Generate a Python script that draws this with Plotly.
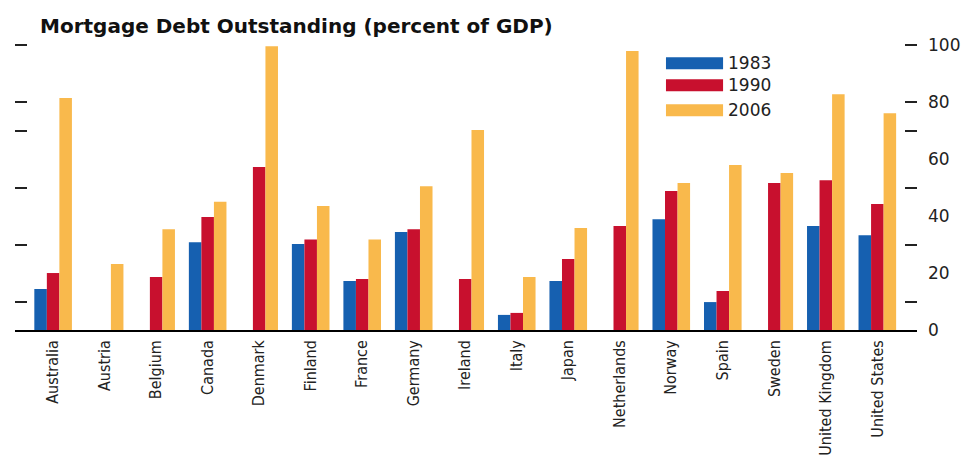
import plotly.graph_objects as go

# Mortgage debt outstanding, percent of GDP
countries = ["Australia", "Austria", "Belgium", "Canada", "Denmark", "Finland",
             "France", "Germany", "Ireland", "Italy", "Japan", "Netherlands",
             "Norway", "Spain", "Sweden", "United Kingdom", "United States"]
y1983 = [14.4, None, None, 30.8, None, 30.2, 17.2, 34.4, None, 5.3, 17.2, None,
         38.9, 9.8, None, 36.5, 33.3]
y1990 = [20.0, None, 18.6, 39.7, 57.2, 31.8, 17.9, 35.4, 17.9, 6.0, 24.9, 36.5,
         48.8, 13.7, 51.6, 52.6, 44.2]
y2006 = [81.4, 23.2, 35.4, 45.0, 99.6, 43.5, 31.8, 50.5, 70.2, 18.6, 35.8, 97.9,
         51.6, 57.9, 55.1, 82.8, 76.1]

series_names = ["1983", "1990", "2006"]
series_values = [y1983, y1990, y2006]
series_colors = ["#1660b0", "#c8102e", "#f9b94c"]

label_ticks = [0, 20, 40, 60, 80, 100]
mark_ticks = [10, 30, 50, 70, 80, 100]

fig = go.Figure()
for name, vals, col in zip(series_names, series_values, series_colors):
    fig.add_trace(go.Bar(x=countries, y=vals, name=name, marker_color=col,
                         marker_line_width=0, showlegend=False))

# invisible trace to activate the right-hand label axis
fig.add_trace(go.Scatter(x=[countries[0]], y=[0], yaxis="y2", mode="markers",
                         marker=dict(opacity=0), showlegend=False, hoverinfo="skip"))

fig.update_layout(
    width=970, height=464,
    margin=dict(l=15, r=53, t=44, b=134),
    paper_bgcolor="white", plot_bgcolor="white",
    barmode="group", bargap=0.27, bargroupgap=0,
    showlegend=False,
    xaxis=dict(
        range=[-0.74, 16.77], showgrid=False, zeroline=False, automargin=False,
        showline=True, linecolor="black", linewidth=1.5,
        ticks="", tickangle=-90, ticklabelstandoff=2,
        tickfont=dict(family="Liberation Sans Narrow, Arial Narrow, DejaVu Sans Condensed, sans-serif",
                      size=16, color="#222"),
    ),
    yaxis=dict(
        range=[0, 100.4], showgrid=False, zeroline=False, automargin=False,
        showline=False, mirror="ticks",
        tickvals=mark_ticks, ticks="inside", ticklen=12, tickwidth=1.5,
        tickcolor="#222", showticklabels=False,
    ),
    yaxis2=dict(
        range=[0, 100.4], overlaying="y", side="right", showgrid=False,
        zeroline=False, showline=False, automargin=False,
        tickvals=label_ticks, ticks="", ticklabelstandoff=10,
        tickfont=dict(family="DejaVu Sans, sans-serif", size=17, color="#222"),
    ),
)

# chart title
fig.add_annotation(text="<b>Mortgage Debt Outstanding (percent of GDP)</b>",
                   xref="paper", yref="paper", x=0.0255, y=1.063,
                   xanchor="left", yanchor="middle", showarrow=False,
                   font=dict(family="DejaVu Sans, sans-serif", size=20, color="#111"))

# legend: wide colour swatches with year labels
legend_top = [0.954, 0.877, 0.789]
for name, col, top in zip(series_names, series_colors, legend_top):
    fig.add_shape(type="rect", xref="paper", yref="paper",
                  x0=0.7217, x1=0.785, y0=top - 0.042, y1=top,
                  fillcolor=col, line_width=0)
    fig.add_annotation(text=name, xref="paper", yref="paper",
                       x=0.788, y=top - 0.021, xanchor="left", yanchor="middle",
                       showarrow=False,
                       font=dict(family="DejaVu Sans, sans-serif", size=17, color="#222"))

fig.write_html("out.html")
